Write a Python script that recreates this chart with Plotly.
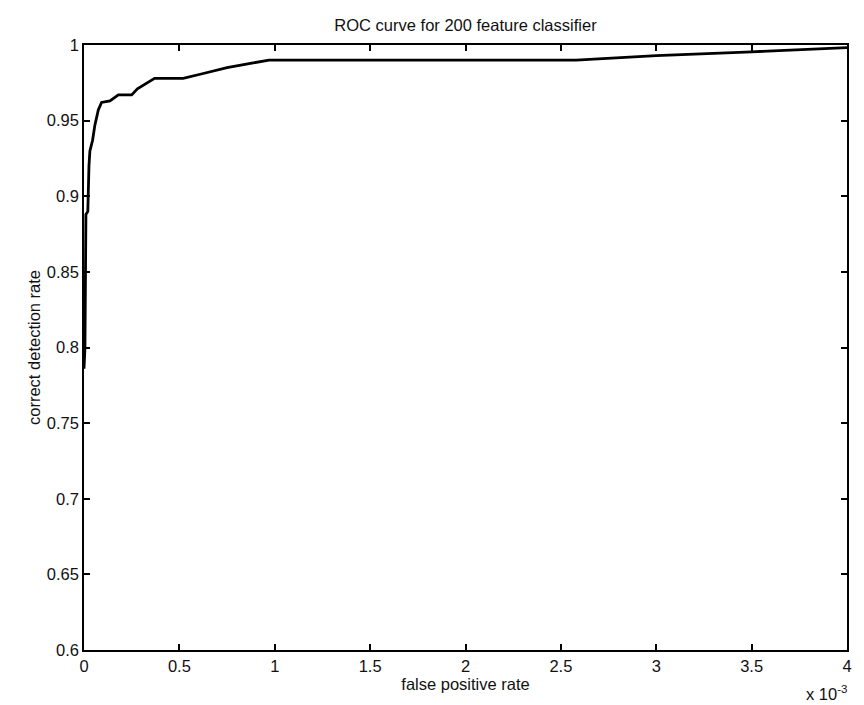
import plotly.graph_objects as go

# false positive rate (x 10^-3) and correct detection rate
fpr = [0, 0.005, 0.01, 0.02, 0.026, 0.031, 0.045, 0.057, 0.075, 0.092, 0.136, 0.18,
       0.25, 0.28, 0.37, 0.52, 0.62, 0.75, 0.88, 0.97, 2.58, 3.0, 3.5, 3.75, 4.0]
tpr = [0.786, 0.80, 0.888, 0.89, 0.92, 0.93, 0.937, 0.947, 0.957, 0.962, 0.963, 0.967,
       0.967, 0.971, 0.978, 0.978, 0.981, 0.985, 0.988, 0.99, 0.99, 0.993, 0.9955, 0.9967, 0.9983]

x_ticks = [0, 0.5, 1, 1.5, 2, 2.5, 3, 3.5, 4]
y_ticks = [0.6, 0.65, 0.7, 0.75, 0.8, 0.85, 0.9, 0.95, 1]

FONT = "Liberation Sans, Arial, sans-serif"
FS = 16.5

fig = go.Figure()
fig.add_trace(go.Scatter(x=fpr, y=tpr, mode="lines",
                         line=dict(color="black", width=2.8),
                         showlegend=False, hoverinfo="skip"))

fig.update_layout(
    width=864, height=705,
    margin=dict(l=84, r=14, t=45, b=55),
    paper_bgcolor="white", plot_bgcolor="white",
    font=dict(family=FONT, size=FS, color="#111111"),
    title=dict(text="ROC curve for 200 feature classifier", x=0.5, xanchor="center",
               xref="paper", y=1 - 25 / 705, yanchor="middle",
               font=dict(family=FONT, size=FS, color="#111111")),
    xaxis=dict(range=[0, 4], tickvals=x_ticks, ticktext=[f"{v:g}" for v in x_ticks],
               ticks="inside", ticklen=6, tickwidth=1.5, tickcolor="black",
               showline=True, linecolor="black", linewidth=1.5, mirror="ticks",
               showgrid=False, zeroline=False,
               title=dict(text="false positive rate", standoff=2, font=dict(size=FS))),
    yaxis=dict(range=[0.6, 1], tickvals=y_ticks, ticktext=[f"{v:g}" for v in y_ticks],
               ticks="inside", ticklen=6, tickwidth=1.5, tickcolor="black",
               showline=True, linecolor="black", linewidth=1.5, mirror="ticks",
               showgrid=False, zeroline=False,
               title=dict(text="correct detection rate", standoff=2, font=dict(size=FS))),
)

fig.add_annotation(text="x 10<sup>-3</sup>", xref="paper", yref="paper",
                   x=1.003, y=-0.071, xanchor="right", yanchor="middle", showarrow=False,
                   font=dict(family=FONT, size=FS, color="#111111"))

fig.write_html("out.html")
